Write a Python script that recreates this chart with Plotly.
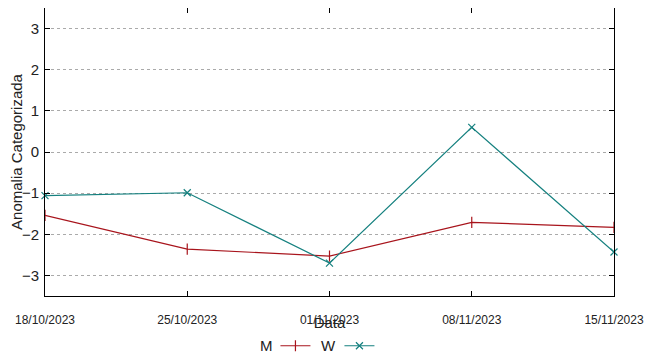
import plotly.graph_objects as go

RED = '#a8141c'; TEAL = '#15807f'; GRID = '#aaaaaa'; TXT = '#222'

dates = ['2023-10-18', '2023-10-25', '2023-11-01', '2023-11-08', '2023-11-15']
date_labels = ['18/10/2023', '25/10/2023', '01/11/2023', '08/11/2023', '15/11/2023']
m_vals = [-1.54, -2.36, -2.53, -1.71, -1.83]
w_vals = [-1.06, -0.99, -2.70, 0.60, -2.43]
y_ticks = [-3, -2, -1, 0, 1, 2, 3]

fig = go.Figure()
fig.add_trace(go.Scatter(
    x=dates, y=m_vals, name='', mode='lines+markers', cliponaxis=False,
    line=dict(color=RED, width=1.2),
    marker=dict(symbol='line-ns', size=8, line=dict(color=RED, width=1.2), color=RED),
))
fig.add_trace(go.Scatter(
    x=dates, y=w_vals, name='', mode='lines+markers', cliponaxis=False,
    line=dict(color=TEAL, width=1.2),
    marker=dict(symbol='x-thin', size=7, line=dict(color=TEAL, width=1.2), color=TEAL),
))

# page body has an 8px margin, so the figure is a bit smaller than the window
fig.update_layout(
    width=644, height=350,
    plot_bgcolor='white', paper_bgcolor='white',
    font=dict(family='Liberation Sans, Arial', size=15, color=TXT),
    margin=dict(l=37, r=38, t=0, b=62),
    showlegend=True,
    # legend placed against the container so it does not eat into the plot area
    legend=dict(orientation='h', x=0.405, xanchor='left', xref='paper',
                y=0.035, yanchor='middle', yref='container',
                entrywidth=19, entrywidthmode='pixels', bgcolor='rgba(0,0,0,0)',
                font=dict(size=8), tracegroupgap=0),
    xaxis=dict(
        type='date', range=[dates[0], dates[-1]], automargin=False,
        tickvals=dates, ticktext=date_labels, tickfont=dict(size=12),
        showgrid=False, zeroline=False,
        showline=True, linecolor='#000', linewidth=1, mirror='allticks',
        ticks='inside', ticklen=5, tickcolor='#000', ticklabelstandoff=13,
        title=dict(text='Data', standoff=11, font=dict(size=15)),
    ),
    yaxis=dict(
        range=[-3.5, 3.5], tickvals=y_ticks, automargin=False,
        showgrid=True, gridcolor=GRID, griddash='dot', gridwidth=1, zeroline=False,
        showline=True, linecolor='#000', linewidth=1, mirror='allticks',
        ticks='inside', ticklen=5, tickcolor='#000', tickfont=dict(size=15),
        ticklabelstandoff=2,
        title=dict(text='Anomalia Categorizada', standoff=6, font=dict(size=15)),
    ),
    annotations=[
        dict(text='M', xref='paper', yref='paper', x=0.405, y=-0.172,
             xanchor='right', yanchor='middle', showarrow=False, font=dict(size=15)),
        dict(text='W', xref='paper', yref='paper', x=0.515, y=-0.172,
             xanchor='right', yanchor='middle', showarrow=False, font=dict(size=15)),
    ],
)

fig.write_html('out.html')
